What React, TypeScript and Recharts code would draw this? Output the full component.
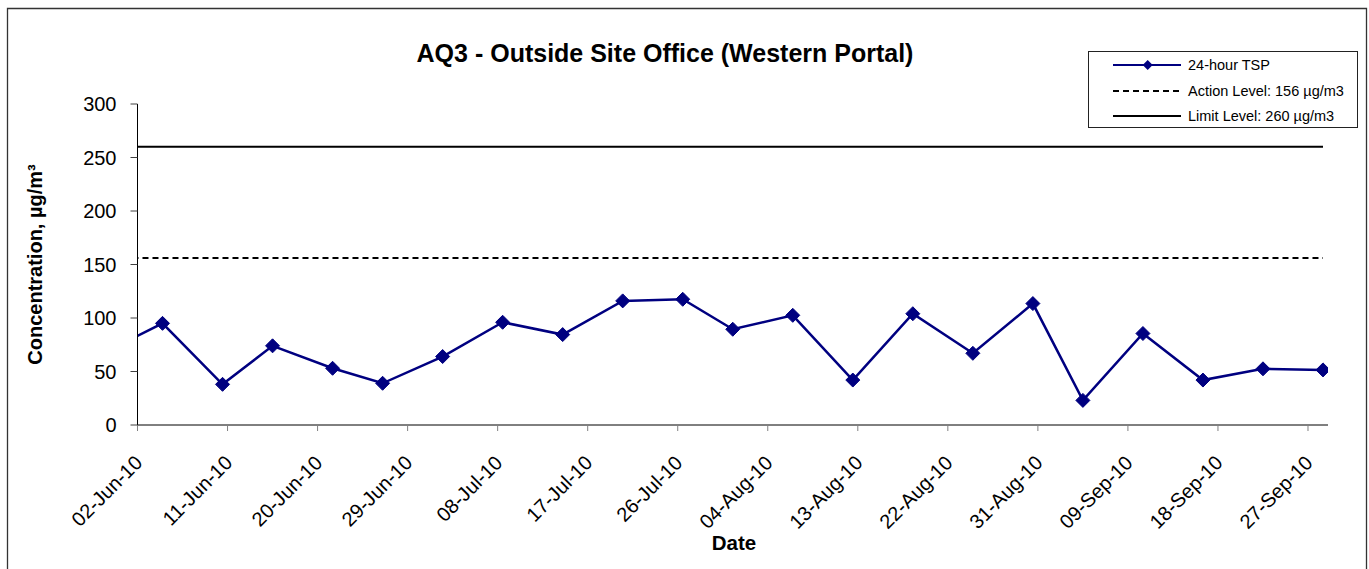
import React from 'react';
import { LineChart, Line, XAxis, YAxis, Legend } from 'recharts';

// ---------- data ----------
const sampleDates = [
  '29-May-10', '04-Jun-10', '10-Jun-10', '15-Jun-10', '21-Jun-10', '26-Jun-10',
  '02-Jul-10', '08-Jul-10', '14-Jul-10', '20-Jul-10', '26-Jul-10', '31-Jul-10',
  '06-Aug-10', '12-Aug-10', '18-Aug-10', '24-Aug-10', '30-Aug-10', '04-Sep-10',
  '10-Sep-10', '16-Sep-10', '22-Sep-10', '28-Sep-10',
];
const tspValues = [
  67, 95, 38, 74, 53, 39,
  64, 96, 84.5, 116, 117.5, 89.5,
  102.5, 42, 104, 67, 113.5, 23,
  85.5, 42, 52.5, 51.5,
];
const actionLevel = 156;
const limitLevel = 260;

const xTickLabels = [
  '02-Jun-10', '11-Jun-10', '20-Jun-10', '29-Jun-10', '08-Jul-10', '17-Jul-10',
  '26-Jul-10', '04-Aug-10', '13-Aug-10', '22-Aug-10', '31-Aug-10', '09-Sep-10',
  '18-Sep-10', '27-Sep-10',
];
const xDomainLabels = ['02-Jun-10', '29-Sep-10'];
const yTicks = [0, 50, 100, 150, 200, 250, 300];

const seriesNames = {
  tsp: '24-hour TSP',
  action: 'Action Level: 156 µg/m3',
  limit: 'Limit Level: 260 µg/m3',
};

// ---------- helpers ----------
const MONTHS = ['Jan', 'Feb', 'Mar', 'Apr', 'May', 'Jun', 'Jul', 'Aug', 'Sep', 'Oct', 'Nov', 'Dec'];
const toTs = (s: string, hour = 0) => {
  const [d, m, y] = s.split('-');
  return Date.UTC(2000 + Number(y), MONTHS.indexOf(m), Number(d), hour);
};

// Excel date axis: each day's point sits in the middle of its day slot
const data = sampleDates.map((d, i) => ({
  t: toTs(d, 12),
  tsp: tspValues[i],
  action: actionLevel,
  limit: limitLevel,
}));
const xTicks = xTickLabels.map((s) => toTs(s));
const xDomain = xDomainLabels.map((s) => toTs(s));

const FONT = 'Arial, "Liberation Sans", sans-serif';
const NAVY = '#000080';

const XTick = (props: any) => {
  const { x, y, payload } = props;
  const idx = xTicks.indexOf(payload.value);
  const label = idx >= 0 ? xTickLabels[idx] : '';
  const tx = x + 6;
  const ty = y + 33;
  return (
    <text
      x={tx}
      y={ty}
      transform={`rotate(-45, ${tx}, ${ty})`}
      textAnchor="end"
      fontSize={20}
      fontFamily={FONT}
      fill="#000"
    >
      {label}
    </text>
  );
};

const Diamond = (props: any) => {
  const { cx, cy, index } = props;
  if (cx == null || cy == null) return <g key={`d-${index}`} />;
  const r = 7;
  return (
    <path
      key={`d-${index}`}
      d={`M${cx},${cy - r} L${cx + r},${cy} L${cx},${cy + r} L${cx - r},${cy} Z`}
      fill={NAVY}
      stroke={NAVY}
      strokeWidth={1}
    />
  );
};

const legendStyle: Record<string, { dash?: string; marker?: boolean; color: string }> = {
  tsp: { color: NAVY, marker: true },
  action: { color: '#000', dash: '6 4' },
  limit: { color: '#000' },
};

const renderLegend = (props: any) => {
  const payload = props.payload || [];
  return (
    <div
      style={{
        width: 270,
        height: 77,
        boxSizing: 'border-box',
        border: '1px solid #222',
        background: '#fff',
        position: 'relative',
        fontFamily: FONT,
      }}
    >
      {payload.map((entry: any, i: number) => {
        const key = String(entry.dataKey);
        const st = legendStyle[key] || { color: entry.color };
        const cy = 13 + i * 25.5;
        return (
          <div
            key={key}
            style={{ position: 'absolute', left: 0, top: cy - 10, height: 20, width: 268 }}
          >
            <svg width={100} height={20} style={{ position: 'absolute', left: 0, top: 0 }}>
              <line
                x1={24}
                x2={92}
                y1={10}
                y2={10}
                stroke={st.color}
                strokeWidth={2}
                strokeDasharray={st.dash}
              />
              {st.marker && (
                <path d="M58.7,5 L63.7,10 L58.7,15 L53.7,10 Z" fill={st.color} />
              )}
            </svg>
            <span
              style={{
                position: 'absolute',
                left: 99,
                top: 0,
                lineHeight: '20px',
                fontSize: 14.5,
                color: '#000',
                whiteSpace: 'nowrap',
              }}
            >
              {entry.value}
            </span>
          </div>
        );
      })}
    </div>
  );
};

export default function App() {
  return (
    <div
      style={{
        position: 'fixed',
        left: 0,
        top: 0,
        width: 1369,
        height: 569,
        overflow: 'hidden',
        background: '#fff',
      }}
    >
      <LineChart
        width={1369}
        height={569}
        data={data}
        margin={{ top: 104, right: 41, left: 0, bottom: 0 }}
      >
        <XAxis
          dataKey="t"
          type="number"
          domain={xDomain}
          ticks={xTicks}
          interval={0}
          allowDataOverflow
          height={144}
          tickSize={6}
          tickMargin={0}
          tick={<XTick />}
          axisLine={{ stroke: '#000', strokeWidth: 1 }}
          tickLine={{ stroke: '#808080', strokeWidth: 1 }}
        />
        <YAxis
          type="number"
          domain={[0, 300]}
          ticks={yTicks}
          interval={0}
          width={137.5}
          tickSize={7}
          tickMargin={14}
          axisLine={{ stroke: '#000', strokeWidth: 1 }}
          tickLine={{ stroke: '#404040', strokeWidth: 1 }}
          tick={{ fontSize: 20, fontFamily: FONT, fill: '#000' }}
        />
        <Legend
          layout="vertical"
          align="center"
          verticalAlign="middle"
          content={renderLegend}
          wrapperStyle={{ left: 1088, top: 51, width: 270, height: 77 }}
        />
        <Line
          dataKey="tsp"
          name={seriesNames.tsp}
          stroke={NAVY}
          strokeWidth={2.5}
          dot={<Diamond />}
          activeDot={false}
          isAnimationActive={false}
        />
        <Line
          dataKey="action"
          name={seriesNames.action}
          stroke="#000"
          strokeWidth={2}
          strokeDasharray="6 4"
          dot={false}
          activeDot={false}
          isAnimationActive={false}
        />
        <Line
          dataKey="limit"
          name={seriesNames.limit}
          stroke="#000"
          strokeWidth={2}
          dot={false}
          activeDot={false}
          isAnimationActive={false}
        />
      </LineChart>
      <svg
        width={1369}
        height={569}
        style={{ position: 'absolute', left: 0, top: 0, pointerEvents: 'none' }}
      >
        <path d="M7.5,569 V8.5 H1366.5 V569" fill="none" stroke="#333" strokeWidth={1.3} />
        <text
          x={665}
          y={62}
          textAnchor="middle"
          fontSize={25}
          fontWeight="bold"
          fontFamily={FONT}
          fill="#000"
        >
          AQ3 - Outside Site Office (Western Portal)
        </text>
        <text
          x={42}
          y={264.5}
          transform="rotate(-90, 42, 264.5)"
          textAnchor="middle"
          fontSize={20}
          fontWeight="bold"
          fontFamily={FONT}
          fill="#000"
        >
          Concentration, µg/m³
        </text>
        <text
          x={734}
          y={550}
          textAnchor="middle"
          fontSize={20.5}
          fontWeight="bold"
          fontFamily={FONT}
          fill="#000"
        >
          Date
        </text>
      </svg>
    </div>
  );
}
